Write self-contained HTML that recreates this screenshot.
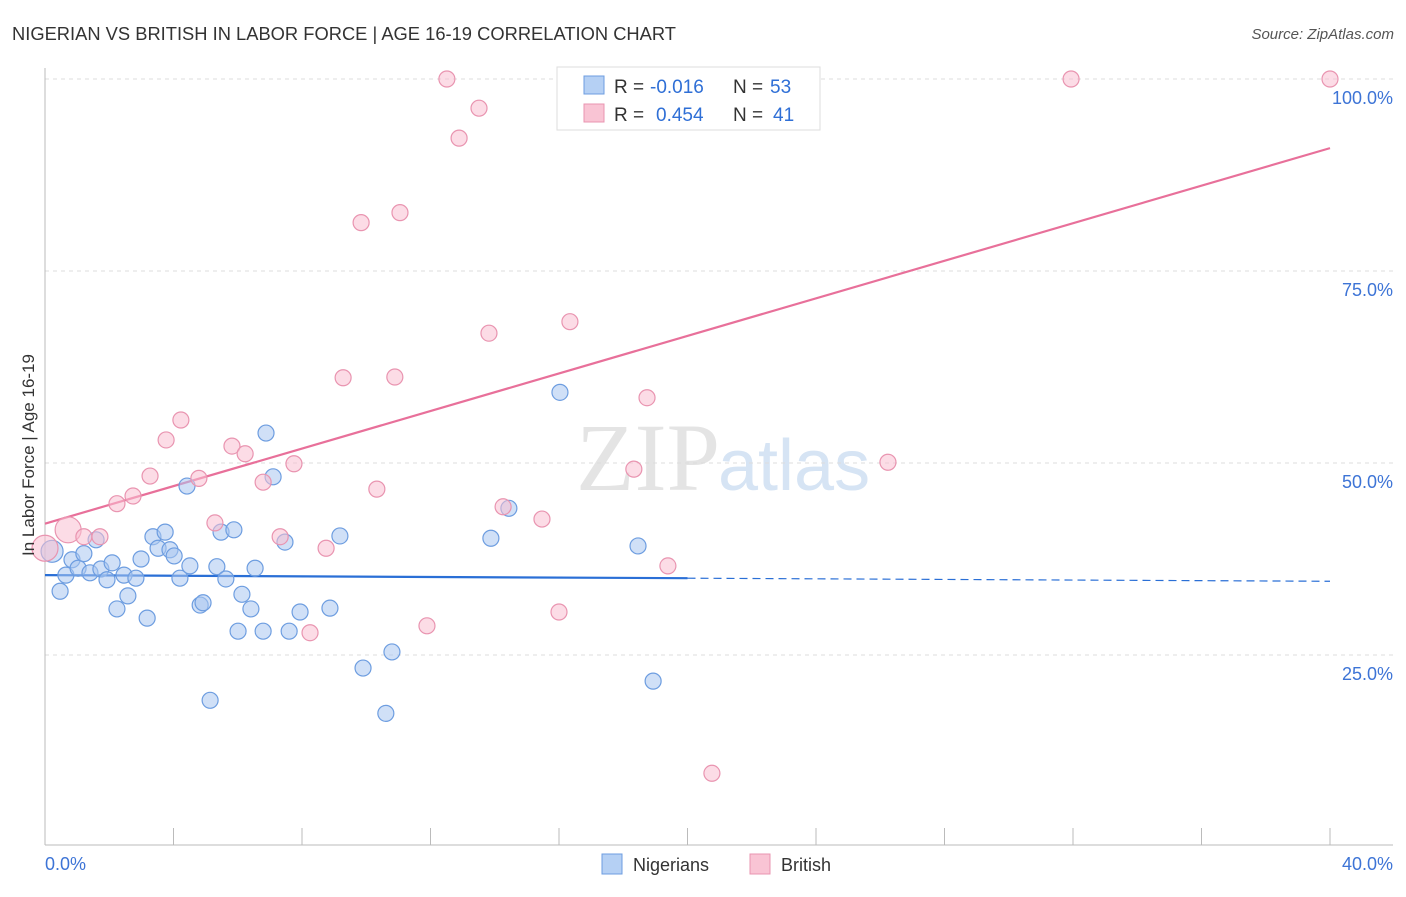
<!DOCTYPE html>
<html><head><meta charset="utf-8"><style>
body{margin:0;background:#fff;font-family:"Liberation Sans",sans-serif;}
</style></head><body>
<svg id="chart" width="1406" height="892" viewBox="0 0 1406 892" xmlns="http://www.w3.org/2000/svg" font-family="Liberation Sans, sans-serif">
<text x="12" y="40" font-size="18" fill="#333" textLength="664" lengthAdjust="spacingAndGlyphs">NIGERIAN VS BRITISH IN LABOR FORCE | AGE 16-19 CORRELATION CHART</text>
<text x="1394" y="39" font-size="15" fill="#555" font-style="italic" text-anchor="end">Source: ZipAtlas.com</text>
<text x="720" y="490" font-size="96" fill="#e4e4e4" text-anchor="end" font-family="Liberation Serif, serif">ZIP</text>
<text x="718" y="490" font-size="72" fill="#d6e4f4">atlas</text>
<g id="grid"></g><g id="axes"></g><g id="lines"></g><g id="points"></g>
<text transform="translate(34,455) rotate(-90)" font-size="17" fill="#333" text-anchor="middle">In Labor Force | Age 16-19</text>
<g>
<rect x="557" y="67" width="263" height="63" fill="#fff" stroke="#ddd"/>
<rect x="584" y="76" width="20" height="18" fill="#b5d0f4" stroke="#6d9de0"/>
<rect x="584" y="104" width="20" height="18" fill="#f9c4d4" stroke="#e994b0"/>
<text x="614" y="93" font-size="19" fill="#333">R =</text>
<text x="650" y="93" font-size="19" fill="#2f6fd6">-0.016</text>
<text x="733" y="93" font-size="19" fill="#333">N =</text>
<text x="770" y="93" font-size="19" fill="#2f6fd6">53</text>
<text x="614" y="121" font-size="19" fill="#333">R =</text>
<text x="656" y="121" font-size="19" fill="#2f6fd6">0.454</text>
<text x="733" y="121" font-size="19" fill="#333">N =</text>
<text x="773" y="121" font-size="19" fill="#2f6fd6">41</text>
</g>
<g>
<rect x="602" y="854" width="20" height="20" fill="#b5d0f4" stroke="#6d9de0"/>
<text x="633" y="871" font-size="18" fill="#333">Nigerians</text>
<rect x="750" y="854" width="20" height="20" fill="#f9c4d4" stroke="#e994b0"/>
<text x="781" y="871" font-size="18" fill="#333">British</text>
</g>
</svg>
<script>
const blueX=[0.22,0.47,0.65,0.84,1.03,1.21,1.40,1.59,1.74,1.93,2.09,2.24,2.46,2.58,2.83,2.99,3.18,3.36,3.52,3.74,3.89,4.02,4.20,4.42,4.51,4.83,4.92,5.14,5.35,5.48,5.63,5.88,6.01,6.13,6.41,6.54,6.79,6.88,7.10,7.47,7.60,7.94,8.87,9.18,9.90,10.61,10.80,13.88,14.44,16.03,18.46,18.93];
const blueY=[38.5,33.3,35.4,37.4,36.3,38.2,35.7,40.0,36.2,34.8,37.0,31.0,35.4,32.7,35.0,37.5,29.8,40.4,38.9,41.0,38.7,37.9,35.0,47.0,36.6,31.5,31.8,19.1,36.5,41.0,34.9,41.3,28.1,32.9,31.0,36.3,28.1,53.9,48.2,39.7,28.1,30.6,31.1,40.5,23.3,17.4,25.4,40.2,44.1,59.2,39.2,21.6];
const pinkX=[0,0.72,1.21,1.71,2.24,2.74,3.27,3.77,4.23,4.79,5.29,5.82,6.23,6.79,7.32,7.75,8.25,8.75,9.28,9.84,10.33,10.89,11.05,11.89,12.51,12.89,13.51,13.82,14.26,15.47,16.00,16.34,18.33,18.74,19.39,20.76,26.24,31.94,40.0];
const pinkY=[38.9,41.3,40.4,40.4,44.7,45.7,48.3,53.0,55.6,48.0,42.2,52.2,51.2,47.5,40.4,49.9,27.9,38.9,61.1,81.3,46.6,61.2,82.6,28.8,100,92.3,96.2,66.9,44.3,42.7,30.6,68.4,49.2,58.5,36.6,9.6,50.1,100,100];
const blueTrend=[35.4,34.6];
const pinkTrend=[42.1,91.0];
const yTicks=[25,50,75,100];
const xTickVals=[0,4,8,12,16,20,24,28,32,36,40];
const NS="http://www.w3.org/2000/svg";
const sx=v=>45+v*32.125, sy=v=>847-v*7.68;
function mk(tag,attrs,parent){const e=document.createElementNS(NS,tag);for(const k in attrs)e.setAttribute(k,attrs[k]);document.getElementById(parent).appendChild(e);return e;}
yTicks.forEach(t=>{
 const l=mk('line',{x1:45,x2:1393,y1:sy(t),y2:sy(t),stroke:'#ddd','stroke-dasharray':'4,4'},'grid');
 
 
 const tx=mk('text',{x:1393,y:sy(t)+25,'font-size':18,fill:'#3d74d6','text-anchor':'end'},'grid');
 tx.textContent=t.toFixed(1)+'%';
 
 
});
const ax=mk('line',{x1:45,x2:1393,y1:845,y2:845,stroke:'#bbb'},'axes');


const ay=mk('line',{x1:45,x2:45,y1:68,y2:845,stroke:'#bbb'},'axes');


xTickVals.forEach(t=>{const l=mk('line',{x1:sx(t),x2:sx(t),y1:828,y2:845,stroke:'#bbb'},'axes');
 
 });
[[0,'0.0%','start',45],[40,'40.0%','end',1393]].forEach(a=>{const t=mk('text',{x:a[3],y:870,'font-size':18,fill:'#3d74d6','text-anchor':a[2]},'axes');t.textContent=a[1];
 
 });
function pt(x,y,r,fill,stroke){const c=mk('circle',{cx:sx(x),cy:sy(y),r:r,fill:fill,'fill-opacity':0.55,stroke:stroke,'stroke-width':1.2},'points');return c;}
blueX.forEach((x,i)=>{const c=pt(x,blueY[i],i===0?11:8,'#a9c7f0','#6d9de0');
 
 });
pinkX.forEach((x,i)=>{const c=pt(x,pinkY[i],i<2?13:8,'#f9c0d2','#e994b0');
 
 });
const bm=blueTrend[0]+(blueTrend[1]-blueTrend[0])*20/40;
const b1=mk('line',{x1:sx(0),y1:sy(blueTrend[0]),x2:sx(20),y2:sy(bm),stroke:'#2a6fd6','stroke-width':2.2},'lines');


const b2=mk('line',{x1:sx(20),y1:sy(bm),x2:sx(40),y2:sy(blueTrend[1]),stroke:'#2a6fd6','stroke-width':1.2,'stroke-dasharray':'8,5'},'lines');


const p1=mk('line',{x1:sx(0),y1:sy(pinkTrend[0]),x2:sx(40),y2:sy(pinkTrend[1]),stroke:'#e8709a','stroke-width':2.2},'lines');


</script>
</body></html>
